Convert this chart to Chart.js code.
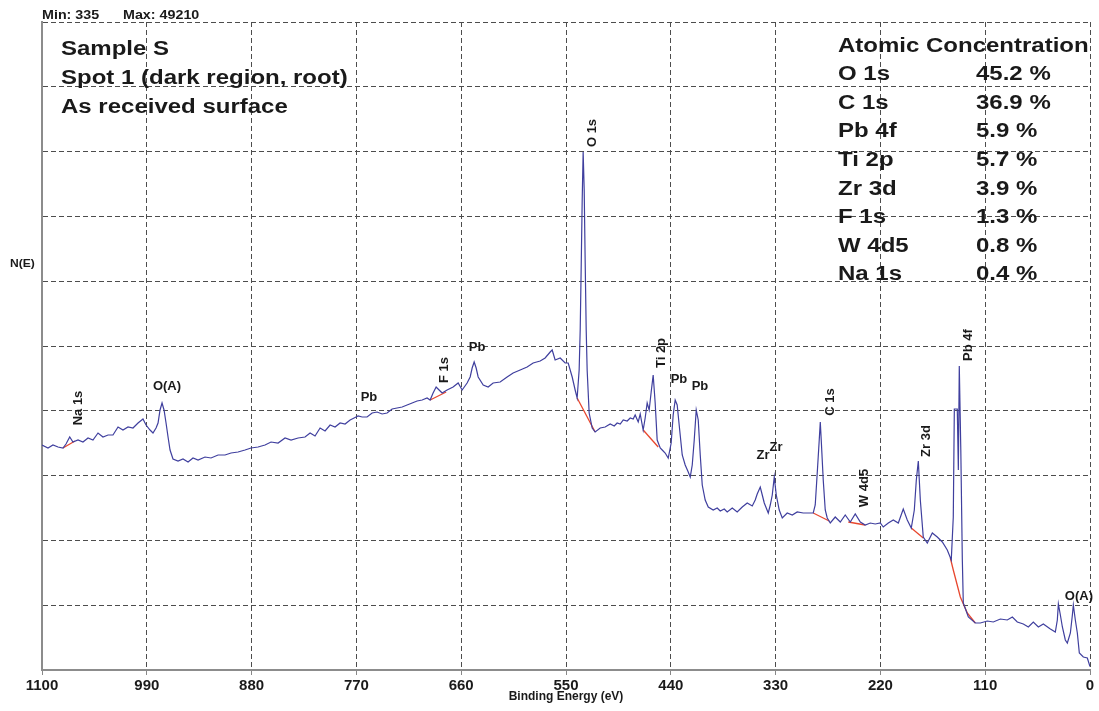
<!DOCTYPE html>
<html>
<head>
<meta charset="utf-8">
<title>XPS survey - Sample S</title>
<script src="https://cdn.jsdelivr.net/npm/chart.js@4.4.1/dist/chart.umd.min.js"></script>
<style>
  html, body { margin: 0; padding: 0; background: #fff; }
  canvas { display: block; }
</style>
</head>
<body>
<canvas id="myChart" width="1099" height="711"></canvas>
<script>
// Survey spectrum, binding energy (eV) vs counts
var bindingEnergy = [
  1100, 1093.7, 1088.5, 1083.2, 1078.0, 1074.8, 1070.9, 1067.5, 1062.2, 1057.0,
  1051.7, 1046.5, 1041.2, 1036.0, 1030.7, 1025.5, 1020.2, 1015.0, 1009.7, 1004.5,
  999.2, 994.0, 990.8, 986.6, 983.5, 980.3, 978.2, 976.1, 974.0, 971.9,
  969.8, 967.7, 965.6, 962.5, 957.2, 952.0, 946.7, 941.5, 936.2, 928.9,
  922.6, 915.2, 907.9, 901.6, 894.2, 886.9, 880.6, 873.2, 865.9, 859.6,
  852.2, 844.9, 838.6, 831.2, 823.9, 818.6, 813.4, 808.1, 802.9, 797.6,
  792.4, 787.1, 781.9, 776.6, 772.4, 768.2, 764.0, 758.8, 753.5, 748.3,
  743.0, 737.8, 732.5, 727.3, 722.0, 716.8, 711.5, 706.3, 701.0, 695.8,
  692.6, 689.5, 686.3, 683.2, 680.0, 674.8, 668.5, 663.2, 659.0, 653.8,
  650.6, 648.5, 646.4, 644.3, 642.2, 636.9, 631.7, 626.5, 619.1, 611.8,
  605.5, 598.1, 590.8, 584.5, 577.1, 571.9, 566.6, 564.5, 561.4, 556.1,
  550.9, 547.7, 543.5, 540.4, 538.3, 536.2, 535.1, 534.1, 533.0, 532.0,
  530.9, 529.9, 528.8, 527.8, 525.7, 522.5, 519.4, 514.1, 508.9, 503.6,
  499.4, 496.3, 493.1, 489.9, 485.8, 482.6, 479.5, 477.4, 474.2, 472.1,
  469.0, 466.9, 464.8, 462.7, 460.6, 458.5, 456.4, 454.3, 451.1, 449.0,
  445.9, 442.7, 439.6, 437.5, 435.4, 433.3, 431.2, 428.0, 424.9, 421.7,
  419.6, 417.5, 415.4, 413.3, 411.2, 409.1, 407.0, 403.9, 400.7, 395.5,
  391.3, 388.1, 383.9, 380.8, 375.5, 370.3, 365.0, 359.8, 354.5, 351.4,
  349.3, 346.1, 344.0, 341.9, 337.7, 335.6, 333.5, 331.4, 329.3, 326.2,
  323.0, 317.8, 312.5, 307.3, 301.0, 295.7, 290.5, 288.4, 286.3, 284.2,
  283.1, 282.1, 280.0, 277.9, 275.8, 272.6, 267.4, 262.1, 256.9, 251.6,
  246.4, 241.1, 235.9, 230.6, 225.4, 220.1, 217.0, 211.7, 206.5, 201.2,
  196.0, 191.8, 187.6, 184.4, 182.3, 180.2, 178.1, 175.0, 170.8, 165.5,
  160.3, 155.0, 149.8, 145.6, 143.5, 142.4, 139.3, 138.2, 137.2, 135.6,
  134.0, 133.0, 127.7, 120.4, 115.1, 107.8, 101.5, 94.1, 86.8, 81.5,
  76.3, 70.0, 64.7, 59.5, 54.2, 49.0, 41.6, 36.4, 34.3, 33.2,
  31.1, 29.0, 25.9, 23.8, 20.6, 18.5, 17.5, 15.4, 13.3, 11.2,
  7.0, 2.8, 0
];
var intensity = [
  21375, 21090, 21375, 21185, 21090, 21470, 22135, 21660, 21850, 21660,
  22040, 21850, 22515, 22135, 22325, 22325, 23085, 22800, 23085, 22990,
  23465, 23845, 23275, 22800, 22515, 22990, 23465, 24700, 25365, 24700,
  23465, 22135, 20900, 20045, 19855, 20045, 19760, 20140, 19950, 20235,
  20140, 20425, 20425, 20615, 20710, 20900, 21090, 21185, 21375, 21660,
  21565, 22040, 21850, 22040, 22135, 22515, 22230, 22990, 22705, 23275,
  23085, 23465, 23370, 23750, 23940, 24130, 24035, 24035, 24415, 24510,
  24320, 24415, 24795, 24890, 24985, 25175, 25365, 25555, 25650, 25840,
  25650, 26315, 26885, 26600, 26315, 26600, 26885, 27265, 26600, 27265,
  27835, 28690, 29260, 28690, 27835, 27075, 26885, 27265, 27360, 27835,
  28215, 28500, 28785, 29165, 29355, 29640, 30210, 30400, 29450, 29640,
  29165, 29165, 27835, 26600, 25840, 28500, 32300, 38000, 44650, 49210,
  45600, 38950, 32300, 28500, 24415, 22990, 22610, 22990, 23085, 23370,
  23180, 23465, 23370, 23750, 23655, 23940, 23845, 24225, 23560, 24320,
  22800, 23940, 25365, 24700, 26410, 28025, 25365, 21850, 21090, 20900,
  20615, 20140, 21565, 24225, 25650, 25175, 23275, 20425, 19475, 18810,
  18335, 19475, 21850, 24700, 23750, 20425, 17575, 16150, 15485, 15200,
  15390, 15105, 15295, 15010, 15390, 15010, 15485, 15865, 15580, 16150,
  16720, 17385, 16625, 15865, 14915, 15675, 16625, 18335, 16625, 15200,
  14440, 14915, 14725, 15010, 14915, 14915, 14915, 15675, 18715, 21850,
  23560, 21850, 18050, 15200, 14440, 13965, 14535, 14060, 14725, 14060,
  14820, 14060, 13775, 13965, 13870, 13965, 13585, 13965, 14250, 13965,
  15295, 14250, 13490, 15200, 18050, 19855, 16150, 12635, 12065, 13015,
  12635, 12160, 11400, 10450, 14535, 24795, 24795, 19000, 28880, 20900,
  10450, 6365, 5035, 4465, 4465, 4655, 4560, 4845, 4750, 5035,
  4560, 4370, 4085, 4560, 4085, 4370, 3895, 3610, 4750, 6270,
  5225, 4085, 2850, 2565, 3515, 5225, 6175, 4750, 3515, 1615,
  1235, 1140, 335
];

// background lines under the quantified peaks
var naBgE = [1078.0, 1065.4],  naBgN = [21090, 21755];
var fBgE  = [692.6, 675.8],    fBgN  = [25650, 26410];
var oBgE  = [538.3, 519.4],    oBgN  = [25840, 22610];
var tiBgE = [469.0, 453.2],    tiBgN = [22800, 21185];
var cBgE  = [290.5, 273.7],    cBgN  = [14915, 14155];
var wBgE  = [253.7, 235.9],    wBgN  = [14060, 13775];
var zrBgE = [187.6, 175.0],    zrBgN = [13490, 12540];
var pbBgE = [146.6, 143.5, 136.1, 128.8, 120.4];
var pbBgN = [10640, 9500, 6935, 5415, 4465];

// peak markers: name, energy, counts where the label sits, vertical or not
var peakNames = ['Na 1s', 'O(A)', 'Pb', 'F 1s', 'Pb', 'O 1s', 'Ti 2p', 'Pb', 'Pb', 'Zr', 'Zr', 'C 1s', 'W 4d5', 'Zr 3d', 'Pb 4f', 'O(A)'];
var peakE = [1062.2, 968.8, 756.8, 678.1, 643.4, 522.7, 450.3, 431.4, 409.4, 343.2, 329.6, 272.9, 237.2, 172.2, 128.1, 11.6];
var peakN = [24890, 26980, 25935, 28500, 30685, 51015, 30115, 27645, 26980, 20425, 21185, 25460, 17290, 21755, 30875, 7030];
var peakVertical = [true, false, false, true, false, true, true, false, false, false, false, true, true, true, true, false];

// atomic concentration table
var elements = ['O 1s', 'C 1s', 'Pb 4f', 'Ti 2p', 'Zr 3d', 'F 1s', 'W 4d5', 'Na 1s'];
var percents = [45.2, 36.9, 5.9, 5.7, 3.9, 1.3, 0.8, 0.4];

var sampleLines = ['Sample S', 'Spot 1 (dark region, root)', 'As received surface'];
var countMin = 335, countMax = 49210;
var xTicks = [0, 110, 220, 330, 440, 550, 660, 770, 880, 990, 1100];
var yTop = 61560;

function pairs(xs, ys) {
  return xs.map(function (x, i) { return { x: x, y: ys[i] }; });
}

function bgSet(xs, ys) {
  return {
    data: pairs(xs, ys),
    borderColor: '#e8472e',
    borderWidth: 1.3,
    pointRadius: 0,
    tension: 0
  };
}

var FONT = '"Liberation Sans", Arial, Helvetica, sans-serif';

// text with optional horizontal stretch and rotation
function putText(ctx, text, x, y, size, sx, rot, align, base) {
  ctx.save();
  ctx.translate(x, y);
  if (rot) ctx.rotate(rot);
  ctx.scale(sx, 1);
  ctx.font = 'bold ' + size + 'px ' + FONT;
  ctx.textAlign = align || 'left';
  ctx.textBaseline = base || 'alphabetic';
  ctx.fillStyle = '#1a1a1a';
  ctx.fillText(text, 0, 0);
  ctx.restore();
}

var whiteBg = {
  id: 'whiteBg',
  beforeDraw: function (chart) {
    var c = chart.ctx;
    c.save();
    c.fillStyle = '#ffffff';
    c.fillRect(0, 0, chart.width, chart.height);
    c.restore();
  }
};

var annotations = {
  id: 'annotations',
  afterDatasetsDraw: function (chart) {
    var ctx = chart.ctx;
    var xs = chart.scales.x, ys = chart.scales.y;

    // peak labels
    peakNames.forEach(function (name, i) {
      var px = xs.getPixelForValue(peakE[i]);
      var py = ys.getPixelForValue(peakN[i]);
      putText(ctx, name, px, py, 13, 1, peakVertical[i] ? -Math.PI / 2 : 0, 'center', 'middle');
    });

    // header line above the frame
    putText(ctx, 'Min: ' + countMin, 42, 19, 13, 1.1);
    putText(ctx, 'Max: ' + countMax, 123, 19, 13, 1.1);

    // y axis name
    putText(ctx, 'N(E)', 10, 267, 11, 1.1);

    // sample description
    sampleLines.forEach(function (t, i) {
      putText(ctx, t, 61, 54.5 + i * 29, 20, 1.2);
    });

    // concentration table
    putText(ctx, 'Atomic Concentration', 838, 51.5, 20, 1.2);
    elements.forEach(function (el, i) {
      var y = 80.1 + i * 28.6;
      putText(ctx, el, 838, y, 20, 1.2);
      putText(ctx, percents[i].toFixed(1) + ' %', 976, y, 20, 1.2);
    });
  }
};

var ctx = document.getElementById('myChart').getContext('2d');

var myChart = new Chart(ctx, {
  type: 'line',
  data: {
    datasets: [
      {
        data: pairs(bindingEnergy, intensity),
        borderColor: '#3f3f9e',
        borderWidth: 1.2,
        pointRadius: 0,
        tension: 0
      },
      bgSet(naBgE, naBgN),
      bgSet(fBgE, fBgN),
      bgSet(oBgE, oBgN),
      bgSet(tiBgE, tiBgN),
      bgSet(cBgE, cBgN),
      bgSet(wBgE, wBgN),
      bgSet(zrBgE, zrBgN),
      bgSet(pbBgE, pbBgN)
    ]
  },
  options: {
    responsive: false,
    animation: false,
    layout: { padding: { left: 42, top: 22, right: 9, bottom: 0 } },
    plugins: {
      legend: { display: false },
      tooltip: { enabled: false }
    },
    scales: {
      x: {
        type: 'linear',
        reverse: true,
        min: 0,
        max: 1100,
        afterBuildTicks: function (scale) {
          scale.ticks = xTicks.map(function (v) { return { value: v }; });
        },
        afterFit: function (scale) { scale.height = 41; },
        ticks: {
          autoSkip: false,
          maxRotation: 0,
          padding: 2,
          color: '#1a1a1a',
          font: { family: FONT, size: 15, weight: 'bold' },
          callback: function (value) { return String(value); }
        },
        grid: { color: '#4d4d4d', lineWidth: 1, tickLength: 5, tickColor: '#888' },
        border: { color: '#8c8c8c', width: 2, dash: [5, 3] },
        title: {
          display: true,
          text: 'Binding Energy (eV)',
          color: '#1a1a1a',
          padding: { top: 0, bottom: 7 },
          font: { family: FONT, size: 12, weight: 'bold' }
        }
      },
      y: {
        type: 'linear',
        min: 0,
        max: yTop,
        afterBuildTicks: function (scale) {
          var t = [];
          for (var i = 0; i <= 10; i++) t.push({ value: yTop * i / 10 });
          scale.ticks = t;
        },
        afterFit: function (scale) { scale.width = 0; },
        ticks: { display: false },
        grid: { color: '#4d4d4d', lineWidth: 1, drawTicks: false },
        border: { color: '#8c8c8c', width: 2, dash: [5, 3] }
      }
    }
  },
  plugins: [whiteBg, annotations]
});
</script>
</body>
</html>
